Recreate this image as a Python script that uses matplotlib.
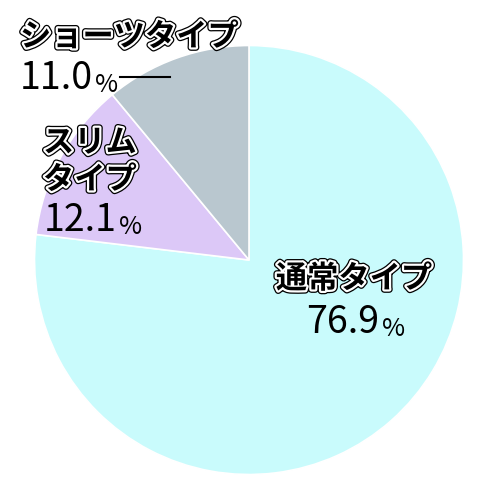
import matplotlib
matplotlib.use("Agg")
import matplotlib.pyplot as plt
import matplotlib.patheffects as pe

categories = ["通常タイプ", "スリムタイプ", "ショーツタイプ"]
values = [76.9, 12.1, 11.0]
pct_labels = ["76.9", "12.1", "11.0"]
colors = ["#C9FBFC", "#DCC8F7", "#B9C7CF"]

W = H = 500
CX, CY, R = 249, 260, 214.5

fig = plt.figure(figsize=(5, 5), dpi=100)
ax = fig.add_axes([0, 0, 1, 1])
ax.pie(values, colors=colors, startangle=90, counterclock=False, radius=1,
       wedgeprops=dict(edgecolor="white", linewidth=1.2))
ax.set_xlim(-CX / R, (W - CX) / R)
ax.set_ylim((CY - H) / R, CY / R)
ax.set_aspect("auto")
ax.axis("off")

def P(px, py):
    return ((px - CX) / R, (CY - py) / R)

JP = ["Noto Sans CJK JP", "DejaVu Sans"]
stroke = [pe.Stroke(linewidth=5.0, foreground="black"),
          pe.Stroke(linewidth=3.2, foreground="white"),
          pe.Normal()]

def jlabel(text, px, py, ha="left"):
    x, y = P(px, py)
    ax.text(x, y, text, ha=ha, va="center", fontsize=22.5, fontweight="bold",
            family=JP, color="black", path_effects=stroke)

def pct(text, px, py, ha="left"):
    x, y = P(px, py)
    t = ax.text(x, y, text, ha=ha, va="baseline", fontsize=27,
                family=JP, color="black")
    ax.annotate("%", xy=(1, 0), xycoords=t, xytext=(1.5, 0), textcoords="offset points",
                ha="left", va="bottom", fontsize=18, family=JP, color="black")
    return t

# ショーツタイプ
jlabel(categories[2], 20, 37)
pct(pct_labels[2], 20, 89)
x1, y1 = P(120, 77)
x2, y2 = P(170, 77)
ax.plot([x1, x2], [y1, y2], color="black", linewidth=1.5)

# スリムタイプ
jlabel("スリム", 43, 143)
jlabel("タイプ", 43, 180)
pct(pct_labels[1], 44, 231)

# 通常タイプ
jlabel(categories[0], 354, 279, ha="center")
pct(pct_labels[0], 343, 333, ha="center")

fig.savefig("out.png", dpi=100)
